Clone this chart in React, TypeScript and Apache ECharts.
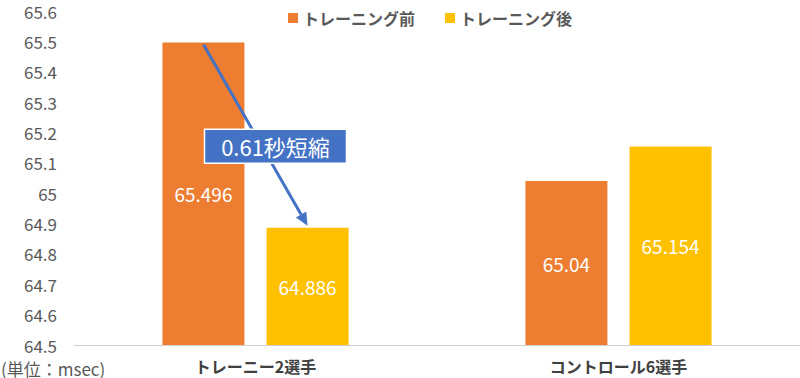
import React, { useEffect, useRef } from "react";
import * as echarts from "echarts";

const categories = ["トレーニー2選手", "コントロール6選手"];
const seriesNames = ["トレーニング前", "トレーニング後"];
const beforeValues = [65.496, 65.04];
const afterValues = [64.886, 65.154];
const annotationText = "0.61秒短縮";
const unitText = "(単位：msec)";

const FONT = '"Noto Sans CJK JP", "Noto Sans", sans-serif';

export default function App() {
  const ref = useRef<HTMLDivElement>(null);
  useEffect(() => {
    if (!ref.current) return;
    const chart = echarts.init(ref.current, null, { renderer: "svg" });
    const labelStyle = {
      show: true,
      position: "inside",
      color: "#ffffff",
      fontSize: 19,
      fontWeight: "normal",
      fontFamily: FONT,
      formatter: (p: any) => String(p.value),
    };
    chart.setOption({
      animation: false,
      textStyle: { fontFamily: FONT },
      legend: {
        top: 5,
        left: 283,
        itemWidth: 10,
        itemHeight: 10,
        itemGap: 30,
        icon: "rect",
        textStyle: { fontSize: 16, fontWeight: "bold", color: "#595959", fontFamily: FONT },
        data: seriesNames,
      },
      grid: { left: 74, right: 0, top: 11, bottom: 33, containLabel: false },
      xAxis: {
        type: "category",
        data: categories,
        axisLine: { lineStyle: { color: "#D0D0D0", width: 1 } },
        axisTick: { show: false },
        axisLabel: { fontSize: 16, fontWeight: "bold", color: "#404040", margin: 13, fontFamily: FONT },
      },
      yAxis: {
        type: "value",
        min: 64.5,
        max: 65.6,
        interval: 0.1,
        splitLine: { show: false },
        axisLine: { show: false },
        axisTick: { show: false },
        axisLabel: {
          fontSize: 17,
          color: "#595959",
          margin: 17,
          align: "right",
          fontFamily: FONT,
          formatter: (v: number) => String(parseFloat(v.toFixed(1))),
        },
      },
      series: [
        {
          name: seriesNames[0],
          type: "bar",
          data: beforeValues,
          barWidth: 82,
          barGap: "27%",
          itemStyle: { color: "#ED7D31" },
          label: labelStyle,
        },
        {
          name: seriesNames[1],
          type: "bar",
          data: afterValues,
          barWidth: 82,
          itemStyle: { color: "#FFC000" },
          label: labelStyle,
        },
      ],
    });

    const getTop = (si: number, idx: number) => {
      try {
        const s = (chart as any).getModel().getSeriesByIndex(si);
        const lay = s.getData().getItemLayout(idx);
        return [lay.x + lay.width / 2, Math.min(lay.y, lay.y + lay.height)];
      } catch (e) {
        return null;
      }
    };
    const graphics: any[] = [
      {
        type: "text",
        left: 1,
        top: 359,
        style: { text: unitText, fill: "#595959", fontSize: 17, lineHeight: 18, fontFamily: FONT },
      },
    ];
    const p1 = getTop(0, 0);
    const p2 = getTop(1, 0);
    if (p1 && p2) {
      const x1 = p1[0], y1 = p1[1] + 2;
      const x2 = p2[0], y2 = p2[1] - 2;
      const dx = x2 - x1, dy = y2 - y1;
      const len = Math.sqrt(dx * dx + dy * dy);
      const ux = dx / len, uy = dy / len;
      const headLen = 13, headW = 6;
      const bx = x2 - ux * headLen, by = y2 - uy * headLen;
      const px = -uy, py = ux;
      const mx = (x1 + x2) / 2 + 20, my = (y1 + y2) / 2 + 11;
      const boxW = 142, boxH = 34;
      graphics.push(
        {
          type: "line",
          shape: { x1, y1, x2: bx, y2: by },
          style: { stroke: "#4472C4", lineWidth: 3 },
          z: 100,
        },
        {
          type: "polygon",
          shape: {
            points: [
              [x2, y2],
              [bx + px * headW, by + py * headW],
              [bx - px * headW, by - py * headW],
            ],
          },
          style: { fill: "#4472C4" },
          z: 100,
        },
        {
          type: "rect",
          shape: { x: mx - boxW / 2, y: my - boxH / 2, width: boxW, height: boxH },
          style: { fill: "#4472C4", stroke: "#ffffff", lineWidth: 1.5 },
          z: 101,
        },
        {
          type: "text",
          x: mx,
          y: my,
          style: {
            text: annotationText,
            fill: "#ffffff",
            fontSize: 22,
            fontWeight: "normal",
            fontFamily: FONT,
            align: "center",
            verticalAlign: "middle",
          },
          z: 102,
        }
      );
    }
    chart.setOption({ graphic: graphics });
    return () => chart.dispose();
  }, []);
  return <div ref={ref} style={{ width: 800, height: 378, position: "absolute", left: 0, top: 0 }} />;
}
